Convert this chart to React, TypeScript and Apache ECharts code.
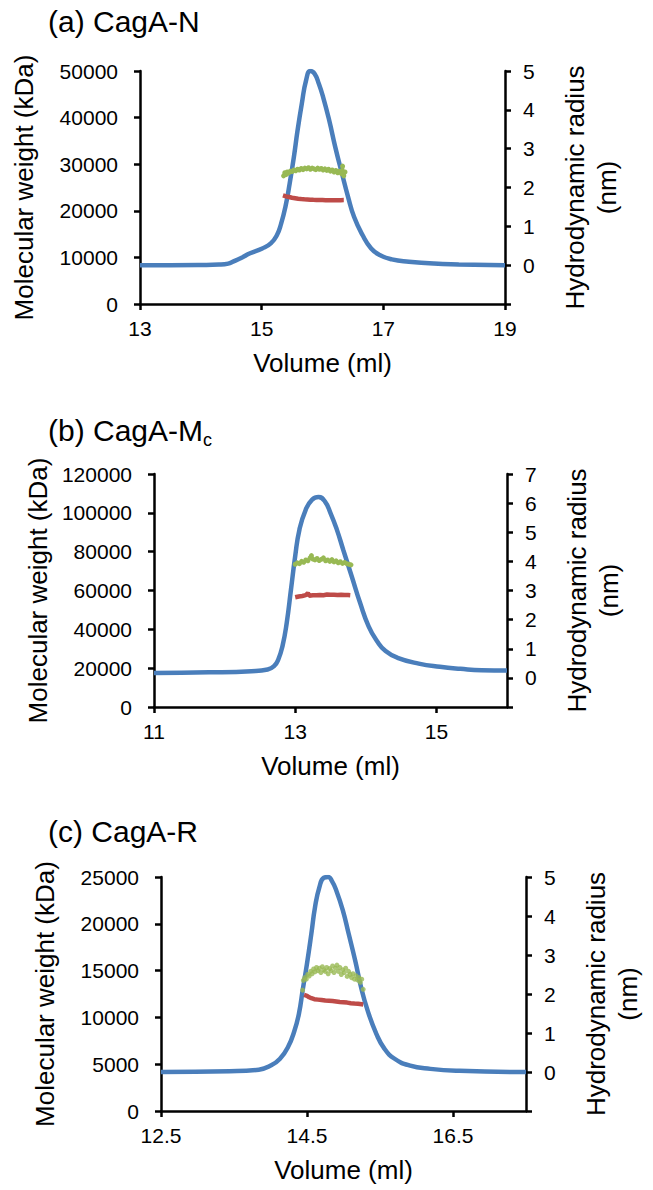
import React, { useEffect, useRef } from "react";
import * as echarts from "echarts";

// ---------- text ----------
const panelTitles = ["(a) CagA-N", "(b) CagA-M{sub|c}", "(c) CagA-R"];
const xAxisName = "Volume (ml)";
const leftAxisName = "Molecular weight (kDa)";
const rightAxisName = "Hydrodynamic radius\n(nm)";

// ---------- axis ranges / tick labels ----------
const xMins = [13, 11, 12.5];
const xMaxs = [19, 16, 17.5];
const xTickLabels = [
  [13, 15, 17, 19],
  [11, 13, 15],
  [12.5, 14.5, 16.5],
];
const leftMaxs = [50000, 120000, 25000];
const leftIntervals = [10000, 20000, 5000];
const rightMaxs = [5, 7, 5];
const rightTickLabels = [
  [0, 1, 2, 3, 4, 5],
  [0, 1, 2, 3, 4, 5, 6, 7],
  [0, 1, 2, 3, 4, 5],
];

// ---------- panel (a) CagA-N ----------
const aVolBlue = [13, 13.5, 14, 14.3, 14.45, 14.53, 14.67, 14.8, 15.01, 15.15, 15.25, 15.32, 15.39, 15.46, 15.53, 15.59, 15.66, 15.73, 15.8, 15.87, 15.94, 16.01, 16.11, 16.21, 16.32, 16.42, 16.52, 16.66, 16.8, 16.94, 17.14, 17.42, 17.83, 18.24, 19];
const aBlue = [0, 0, 0.005, 0.015, 0.04, 0.09, 0.19, 0.3, 0.43, 0.56, 0.77, 1.07, 1.5, 2.1, 2.79, 3.47, 4.16, 4.76, 5.0, 4.93, 4.67, 4.33, 3.73, 3.04, 2.36, 1.76, 1.24, 0.77, 0.43, 0.26, 0.15, 0.09, 0.04, 0.02, 0];
const aVolRed = [15.35, 15.4, 15.45, 15.5, 15.55, 15.6, 15.65, 15.7, 15.75, 15.8, 15.85, 15.9, 15.95, 16.0, 16.05, 16.1, 16.15, 16.2, 16.25, 16.3, 16.35];
const aRed = [23300, 23100, 22950, 22800, 22700, 22600, 22520, 22460, 22420, 22380, 22350, 22330, 22310, 22300, 22290, 22280, 22280, 22280, 22290, 22290, 22300];
const aVolGreen = [15.36, 15.38, 15.4, 15.42, 15.44, 15.47, 15.5, 15.53, 15.56, 15.59, 15.62, 15.65, 15.68, 15.71, 15.74, 15.77, 15.8, 15.83, 15.86, 15.89, 15.92, 15.95, 15.98, 16.01, 16.04, 16.07, 16.1, 16.13, 16.16, 16.19, 16.22, 16.25, 16.28, 16.31, 16.33, 16.35, 16.37];
const aGreen = [2.3, 2.38, 2.33, 2.4, 2.37, 2.42, 2.41, 2.45, 2.43, 2.47, 2.45, 2.49, 2.46, 2.5, 2.48, 2.51, 2.47, 2.5, 2.48, 2.46, 2.5, 2.47, 2.49, 2.45, 2.48, 2.44, 2.47, 2.42, 2.45, 2.4, 2.44, 2.38, 2.42, 2.36, 2.55, 2.3, 2.4];

// ---------- panel (b) CagA-Mc ----------
const bVolBlue = [11.0, 11.78, 12.38, 12.61, 12.7, 12.76, 12.82, 12.88, 12.94, 13.0, 13.06, 13.15, 13.24, 13.33, 13.42, 13.5, 13.59, 13.68, 13.8, 13.92, 14.04, 14.16, 14.28, 14.45, 14.75, 15.05, 15.34, 15.64, 16.0];
const bBlue = [0.17, 0.19, 0.23, 0.29, 0.4, 0.63, 1.09, 1.89, 3.03, 4.18, 5.09, 5.78, 6.12, 6.21, 6.06, 5.66, 5.09, 4.4, 3.49, 2.57, 1.77, 1.26, 0.92, 0.69, 0.49, 0.38, 0.31, 0.26, 0.25];
const bVolRed = [13.0, 13.05, 13.1, 13.15, 13.18, 13.2, 13.25, 13.3, 13.35, 13.4, 13.45, 13.5, 13.55, 13.6, 13.65, 13.7, 13.75, 13.78];
const bRed = [56500, 56900, 57200, 57600, 58600, 57300, 57500, 57600, 57700, 57600, 57900, 57800, 57800, 57700, 57800, 57700, 57700, 57600];
const bVolGreen = [13.0, 13.03, 13.06, 13.09, 13.12, 13.15, 13.18, 13.21, 13.23, 13.25, 13.28, 13.31, 13.34, 13.37, 13.4, 13.43, 13.46, 13.49, 13.52, 13.55, 13.58, 13.61, 13.64, 13.67, 13.7, 13.73, 13.76, 13.79];
const bGreen = [3.9, 3.95, 3.92, 4.0, 3.97, 4.05, 4.02, 4.12, 4.2, 4.08, 4.05, 4.1, 4.03, 4.07, 4.12, 4.02, 4.05, 4.0, 4.06, 3.98, 4.02, 3.95, 3.99, 3.93, 3.96, 3.92, 3.9, 3.88];

// ---------- panel (c) CagA-R ----------
const cVolBlue = [12.5, 13.44, 13.84, 14.01, 14.13, 14.24, 14.33, 14.39, 14.44, 14.5, 14.56, 14.61, 14.67, 14.73, 14.79, 14.84, 14.9, 14.99, 15.07, 15.16, 15.24, 15.33, 15.45, 15.56, 15.7, 15.9, 16.19, 16.59, 17.5];
const cBlue = [0, 0.02, 0.06, 0.17, 0.34, 0.64, 1.07, 1.5, 2.09, 2.78, 3.55, 4.23, 4.74, 4.98, 5.0, 4.9, 4.66, 4.15, 3.55, 2.86, 2.18, 1.58, 0.98, 0.6, 0.34, 0.17, 0.08, 0.03, 0];
const cVolRed = [14.46, 14.5, 14.53, 14.56, 14.6, 14.65, 14.7, 14.75, 14.8, 14.85, 14.9, 14.95, 15.0, 15.05, 15.1, 15.15, 15.2, 15.25, 15.27];
const cRed = [12400, 12300, 12150, 12050, 11950, 11900, 11850, 11800, 11780, 11750, 11700, 11650, 11620, 11580, 11520, 11480, 11450, 11400, 11380];
const cVolGreen = [14.44, 14.45, 14.47, 14.49, 14.51, 14.53, 14.55, 14.57, 14.59, 14.61, 14.63, 14.65, 14.67, 14.69, 14.71, 14.73, 14.75, 14.77, 14.79, 14.81, 14.83, 14.85, 14.87, 14.89, 14.91, 14.93, 14.95, 14.97, 14.99, 15.01, 15.03, 15.05, 15.07, 15.09, 15.11, 15.13, 15.15, 15.17, 15.19, 15.21, 15.23, 15.25, 15.27];
const cGreen = [2.1, 2.35, 2.42, 2.38, 2.5, 2.46, 2.58, 2.52, 2.64, 2.57, 2.68, 2.6, 2.66, 2.55, 2.7, 2.62, 2.58, 2.68, 2.52, 2.65, 2.6, 2.72, 2.55, 2.66, 2.74, 2.58, 2.68, 2.5, 2.62, 2.55, 2.66, 2.45, 2.58, 2.5, 2.42, 2.52, 2.38, 2.47, 2.36, 2.42, 2.3, 2.38, 2.12];

const blueX = [aVolBlue, bVolBlue, cVolBlue];
const blueY = [aBlue, bBlue, cBlue];
const redX = [aVolRed, bVolRed, cVolRed];
const redY = [aRed, bRed, cRed];
const greenX = [aVolGreen, bVolGreen, cVolGreen];
const greenY = [aGreen, bGreen, cGreen];

// ---------- layout (pixels) ----------
const grids = [
  { left: 140, right: 148, top: 71, height: 233 },
  { left: 154, right: 146, top: 474, height: 233 },
  { left: 161, right: 127, top: 877, height: 234 },
];
const titleTops = [6, 412, 816];

const FONT = "'Liberation Sans', Arial, Helvetica, sans-serif";
const BLACK = "#000";
const BLUE = "#4A7EBB";
const RED = "#BE4B48";
const GREEN = "#98B954";

const zip = (xs: number[], ys: number[]) => xs.map((x, i) => [x, ys[i]]);

function buildOption() {
  const axisLine = { show: true, onZero: false, lineStyle: { color: BLACK, width: 2.5 } };
  const axisTickBase = { show: true, inside: false, length: 6, lineStyle: { color: BLACK, width: 2.5 } };
  const labelBase = { color: BLACK, fontSize: 21, fontFamily: FONT };
  const nameStyle = { color: BLACK, fontSize: 26, fontFamily: FONT };

  const title = panelTitles.map((t, i) => ({
    text: t,
    left: 48,
    top: titleTops[i],
    padding: 0,
    textStyle: {
      color: BLACK,
      fontSize: 30,
      fontWeight: "normal",
      fontFamily: FONT,
      rich: {
        sub: { fontSize: 18, fontFamily: FONT, color: BLACK, padding: [19, 0, 0, 0] },
      },
    },
  }));

  const grid = grids.map((g) => ({ ...g, containLabel: false, outerBoundsMode: "none" }));

  const xAxis = xMins.map((mn, i) => ({
    type: "value",
    gridIndex: i,
    min: mn,
    max: xMaxs[i],
    axisLine,
    axisTick: { ...axisTickBase, customValues: xTickLabels[i] },
    axisLabel: { ...labelBase, margin: 14, customValues: xTickLabels[i] },
    splitLine: { show: false },
    name: xAxisName,
    nameLocation: "middle",
    nameGap: 46,
    nameTextStyle: nameStyle,
  }));

  const yAxis: any[] = [];
  xMins.forEach((_, i) => {
    yAxis.push({
      type: "value",
      gridIndex: i,
      position: "left",
      min: 0,
      max: leftMaxs[i],
      interval: leftIntervals[i],
      axisLine,
      axisTick: axisTickBase,
      axisLabel: { ...labelBase, margin: 22, formatter: (v: number) => String(v) },
      splitLine: { show: false },
      name: leftAxisName,
      nameLocation: "middle",
      nameRotate: 90,
      nameGap: 103,
      nameTextStyle: nameStyle,
    });
    yAxis.push({
      type: "value",
      gridIndex: i,
      position: "right",
      min: -1,
      max: rightMaxs[i],
      interval: 1,
      axisLine,
      axisTick: axisTickBase,
      axisLabel: { ...labelBase, margin: 18, customValues: rightTickLabels[i] },
      splitLine: { show: false },
      name: rightAxisName,
      nameLocation: "middle",
      nameRotate: 90,
      nameGap: 54,
      nameTextStyle: { ...nameStyle, lineHeight: 32 },
    });
  });

  const series: any[] = [];
  xMins.forEach((_, i) => {
    series.push({
      type: "line",
      name: "signal",
      xAxisIndex: i,
      yAxisIndex: 2 * i + 1,
      data: zip(blueX[i], blueY[i]),
      showSymbol: false,
      smooth: 0.5,
      lineStyle: { color: BLUE, width: 4.5 },
      z: 2,
    });
    series.push({
      type: "line",
      name: "Molecular weight",
      xAxisIndex: i,
      yAxisIndex: 2 * i,
      data: zip(redX[i], redY[i]),
      showSymbol: false,
      lineStyle: { color: RED, width: 4.5 },
      z: 3,
    });
    if (i < 2) {
      series.push({
        type: "line",
        name: "Hydrodynamic radius",
        xAxisIndex: i,
        yAxisIndex: 2 * i + 1,
        data: zip(greenX[i], greenY[i]),
        showSymbol: true,
        symbol: "circle",
        symbolSize: 5,
        itemStyle: { color: GREEN },
        lineStyle: { color: GREEN, width: 3 },
        z: 4,
      });
    } else {
      series.push({
        type: "scatter",
        name: "Hydrodynamic radius",
        xAxisIndex: i,
        yAxisIndex: 2 * i + 1,
        data: zip(greenX[i], greenY[i]),
        symbol: "circle",
        symbolSize: 5,
        itemStyle: { color: GREEN },
        z: 4,
      });
    }
  });

  return {
    animation: false,
    backgroundColor: "#fff",
    textStyle: { fontFamily: FONT },
    title,
    grid,
    xAxis,
    yAxis,
    series,
  };
}

export default function App() {
  const ref = useRef<HTMLDivElement>(null);
  useEffect(() => {
    document.body.style.margin = "0";
    if (!ref.current) return;
    const chart = echarts.init(ref.current, undefined, { renderer: "svg" });
    chart.setOption(buildOption() as any);
    return () => chart.dispose();
  }, []);
  return (
    <div
      ref={ref}
      style={{ position: "absolute", left: 0, top: 0, width: 653, height: 1190, background: "#fff" }}
    />
  );
}
